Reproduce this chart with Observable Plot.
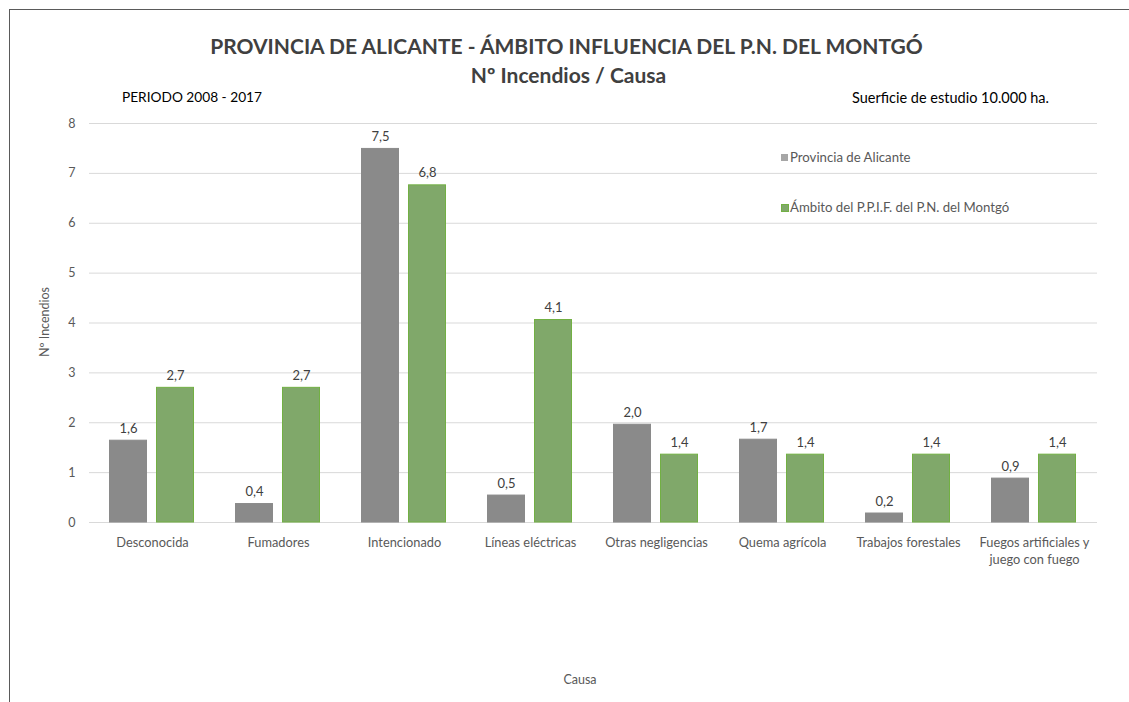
<!DOCTYPE html>
<html>
<head>
<meta charset="utf-8">
<script src="https://cdn.jsdelivr.net/npm/d3@7"></script>
<script src="https://cdn.jsdelivr.net/npm/@observablehq/plot@0.6"></script>
<style>
  html, body { margin: 0; padding: 0; background: #fff; }
  body { width: 1129px; height: 702px; position: relative; overflow: hidden; font-family: Lato, "Open Sans", sans-serif; color: #595959; }
  #frame { position: absolute; left: 9px; top: 9px; width: 1130px; height: 710px; border-left: 1px solid #5a5a5a; border-top: 1px solid #5a5a5a; }
  #chart { position: absolute; left: 0; top: 0; }
  .t { position: absolute; white-space: nowrap; }
  #title1 { left: 0; width: 1133px; top: 33px; text-align: center; font-size: 21px; font-weight: bold; color: #404040; }
  #title2 { left: 0; width: 1137px; top: 62px; text-align: center; font-size: 21px; font-weight: bold; color: #404040; }
  #periodo { left: 122px; top: 88px; font-size: 13.7px; color: #000; }
  #sup { right: 80px; top: 89px; font-size: 14.5px; color: #000; }
  #ylab { left: 44px; top: 322px; font-size: 12.5px; transform: translate(-50%, -50%) rotate(-90deg); }
  #xlab { left: 580px; top: 672px; font-size: 12.5px; transform: translateX(-50%); }
  .leg { position: absolute; font-size: 13.2px; color: #595959; }
  .sw { position: absolute; width: 7px; height: 7px; }
</style>
</head>
<body>
<div id="frame"></div>
<div id="chart"></div>
<div class="t" id="title1">PROVINCIA DE ALICANTE - ÁMBITO INFLUENCIA DEL P.N. DEL MONTGÓ</div>
<div class="t" id="title2">Nº Incendios / Causa</div>
<div class="t" id="periodo">PERIODO 2008 - 2017</div>
<div class="t" id="sup">Suerficie de estudio 10.000 ha.</div>
<div class="t" id="ylab">Nº Incendios</div>
<div class="t" id="xlab">Causa</div>
<div id="legend"></div>
<script>
const causas = ["Desconocida", "Fumadores", "Intencionado", "Líneas eléctricas", "Otras negligencias", "Quema agrícola", "Trabajos forestales", "Fuegos artificiales y juego con fuego"];
const series = ["Provincia de Alicante", "Ámbito del P.P.I.F. del P.N. del Montgó"];
const provincia = [1.64, 0.37, 7.49, 0.54, 1.96, 1.66, 0.18, 0.88];
const ambito = [2.70, 2.70, 6.76, 4.06, 1.36, 1.36, 1.36, 1.36];
const yTicks = [0, 1, 2, 3, 4, 5, 6, 7, 8];
const colors = ["#8a8a8a", "#80a86a"];
const strokes = ["#8a8a8a", "#72b043"];

const data = [];
causas.forEach((c, i) => {
  data.push({causa: c, serie: series[0], value: provincia[i]});
  data.push({causa: c, serie: series[1], value: ambito[i]});
});
const fmt = v => v.toFixed(1).replace(".", ",");
const wrap = c => c === "Fuegos artificiales y juego con fuego" ? "Fuegos artificiales y\njuego con fuego" : c;

const plot = Plot.plot({
  width: 1129,
  height: 702,
  marginTop: 123,
  marginBottom: 180,
  marginLeft: 88,
  marginRight: 32,
  style: {fontFamily: "Lato, 'Open Sans', sans-serif", background: "transparent", color: "#595959"},
  fx: {domain: causas, padding: 0, label: null},
  x: {domain: series, paddingInner: 0.19, paddingOuter: 0.41, axis: null},
  y: {domain: [0, 8], axis: null},
  color: {domain: series, range: colors},
  marks: [
    Plot.gridY(yTicks, {stroke: "#d9d9d9", strokeOpacity: 1, strokeWidth: 1}),
    Plot.axisY(yTicks, {anchor: "left", tickSize: 0, tickPadding: 14, fontSize: 12.5, fill: "#595959", label: null, tickFormat: d => String(d)}),
    Plot.barY(data, {fx: "causa", x: "serie", y: "value", fill: "serie", stroke: d => d.serie === series[0] ? strokes[0] : strokes[1], strokeWidth: 1, insetLeft: 0.5, insetRight: 0.5}),
    Plot.text(data, {fx: "causa", x: "serie", y: "value", text: d => fmt(d.value), lineAnchor: "bottom", dy: -8, fontSize: 13, fill: "#404040"}),
    Plot.axisFx({anchor: "bottom", tickSize: 0, tickPadding: 13, tickFormat: wrap, fontSize: 12.8, lineHeight: 1.3, label: null, fill: "#595959"})
  ]
});
document.getElementById("chart").appendChild(plot);

const legend = document.getElementById("legend");
const legY = [158, 208];
series.forEach((s, i) => {
  const sw = document.createElement("div");
  sw.className = "sw";
  sw.style.left = "781px";
  sw.style.top = (legY[i] - 4) + "px";
  sw.style.background = i === 0 ? "#a6a6a6" : colors[1];
  if (i === 1) { sw.style.border = "1px solid " + strokes[1]; sw.style.width = "6px"; sw.style.height = "6px"; }
  legend.appendChild(sw);
  const t = document.createElement("div");
  t.className = "leg";
  t.style.left = "790px";
  t.style.top = (legY[i] - 9) + "px";
  t.textContent = s;
  legend.appendChild(t);
});
</script>
</body>
</html>
